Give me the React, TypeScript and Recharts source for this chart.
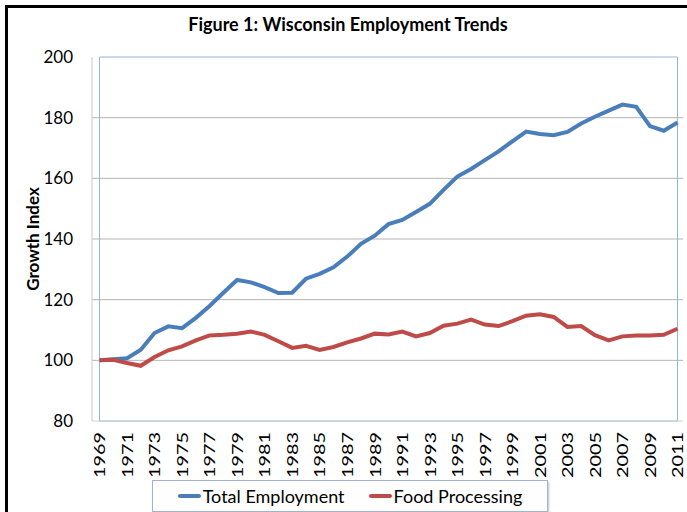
import { LineChart, Line, XAxis, YAxis, CartesianGrid, ReferenceArea } from 'recharts';

const years = [
  '1969', '1970', '1971', '1972', '1973', '1974', '1975', '1976', '1977', '1978',
  '1979', '1980', '1981', '1982', '1983', '1984', '1985', '1986', '1987', '1988',
  '1989', '1990', '1991', '1992', '1993', '1994', '1995', '1996', '1997', '1998',
  '1999', '2000', '2001', '2002', '2003', '2004', '2005', '2006', '2007', '2008',
  '2009', '2010', '2011',
];

const totalEmployment = [
  100, 100.4, 100.7, 103.5, 109, 111.2, 110.6, 114, 117.9, 122.3,
  126.5, 125.7, 124.1, 122.2, 122.3, 126.9, 128.5, 130.7, 134.2, 138.4,
  141.1, 144.9, 146.3, 148.9, 151.6, 156.2, 160.6, 163.1, 166, 168.9,
  172.2, 175.4, 174.6, 174.2, 175.3, 178.1, 180.3, 182.3, 184.3, 183.6,
  177.2, 175.7, 178.4,
];

const foodProcessing = [
  100, 100.2, 99.1, 98.2, 101.1, 103.3, 104.6, 106.6, 108.2, 108.4,
  108.8, 109.5, 108.4, 106.3, 104.1, 104.8, 103.4, 104.4, 105.9, 107.2,
  108.8, 108.5, 109.5, 107.9, 109, 111.4, 112.1, 113.4, 111.8, 111.3,
  112.9, 114.7, 115.2, 114.3, 111, 111.3, 108.3, 106.6, 107.9, 108.2,
  108.2, 108.4, 110.4,
];

const yTicks = [80, 100, 120, 140, 160, 180, 200];
const gridValues = [100, 120, 140, 160, 180];

const data = years.map((year, i) => ({
  year,
  total: totalEmployment[i],
  food: foodProcessing[i],
}));

const FONT = 'Lato, "Open Sans", sans-serif';
const BLUE = '#4a7ebb';
const RED = '#be4b48';

function YearTick({ x, y, payload }: any) {
  return (
    <g transform={`translate(${x},${y})`}>
      <text
        transform="rotate(-90)"
        textAnchor="end"
        dy="0.36em"
        fontSize={16}
        fontFamily={FONT}
        fill="#000"
        textLength={46}
        lengthAdjust="spacingAndGlyphs"
      >
        {payload.value}
      </text>
    </g>
  );
}

function YLabel({ viewBox }: any) {
  const cy = viewBox.y + viewBox.height / 2;
  return (
    <text
      x={viewBox.x + 33}
      y={cy}
      transform={`rotate(-90, ${viewBox.x + 33}, ${cy})`}
      textAnchor="middle"
      dy="0.36em"
      fontSize={17}
      fontWeight="bold"
      fontFamily={FONT}
      fill="#000"
    >
      Growth Index
    </text>
  );
}

function LegendItem({ color, label }: { color: string; label: string }) {
  return (
    <div style={{ display: 'flex', alignItems: 'center' }}>
      <div style={{ width: 23, height: 4, background: color, borderRadius: 2, marginRight: 2 }} />
      <span>{label}</span>
    </div>
  );
}

export default function App() {
  return (
    <div style={{ position: 'absolute', left: 0, top: 0, width: 687, height: 512, overflow: 'hidden', background: '#fff' }}>
      <div
        style={{
          position: 'absolute', left: 5, top: 5, width: 720, height: 600,
          borderLeft: '3px solid #000', borderTop: '3px solid #000',
        }}
      />
      <div
        style={{
          position: 'absolute', left: 0, top: 13, width: 696, textAlign: 'center',
          fontFamily: FONT, fontWeight: 'bold', fontSize: 18, color: '#000',
        }}
      >
        Figure 1: Wisconsin Employment Trends
      </div>
      <div style={{ position: 'absolute', left: 0, top: 0 }}>
        <LineChart width={687} height={512} data={data} margin={{ top: 57, right: 4, bottom: 0, left: 0 }}>
          <CartesianGrid vertical={false} horizontalValues={gridValues} stroke="#b5b5b5" />
          <ReferenceArea y1={80} y2={200} fill="none" stroke="#95b3d7" strokeWidth={1} />
          <XAxis
            dataKey="year"
            height={91}
            interval={1}
            padding={{ left: 7.5, right: 5.5 }}
            tickLine={false}
            tickMargin={5}
            axisLine={{ stroke: '#d0d0d0' }}
            tick={<YearTick />}
          />
          <YAxis
            width={92}
            domain={[80, 200]}
            ticks={yTicks}
            tickLine={false}
            tickMargin={13}
            axisLine={{ stroke: '#c8c8c8' }}
            tick={{ fontSize: 17, fontFamily: FONT, fill: '#000' }}
            label={<YLabel />}
          />
          <Line type="linear" dataKey="total" stroke={BLUE} strokeWidth={4} dot={false} isAnimationActive={false} />
          <Line type="linear" dataKey="food" stroke={RED} strokeWidth={4} dot={false} isAnimationActive={false} />
        </LineChart>
      </div>
      <div
        style={{
          position: 'absolute', left: 152, top: 480, width: 394, height: 30,
          border: '1px solid #9fb3cf', boxShadow: '1px 2px 2px rgba(0,0,0,0.25)',
          display: 'flex', alignItems: 'center', justifyContent: 'center', gap: 24,
          fontFamily: FONT, fontSize: 18, color: '#000', background: '#fff',
        }}
      >
        <LegendItem color={BLUE} label="Total Employment" />
        <LegendItem color={RED} label="Food Processing" />
      </div>
    </div>
  );
}
